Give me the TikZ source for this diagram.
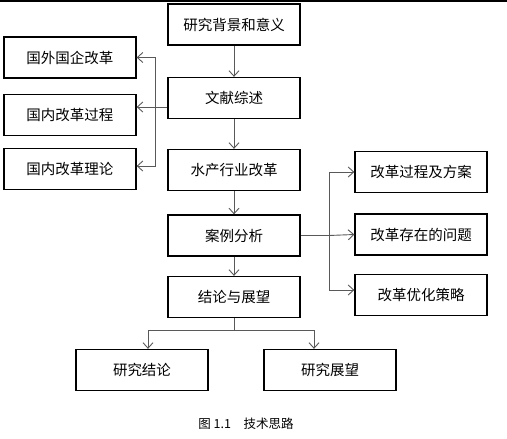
\documentclass[tikz,border=0pt]{standalone}
\usepackage{fontspec}
\setmainfont{Noto Sans CJK SC}
\usetikzlibrary{positioning, arrows.meta}

\begin{document}
\begin{tikzpicture}[x=1pt,y=-1pt,
	box/.style={draw=black,line width=1.3pt,minimum width=132pt,minimum height=41pt,inner sep=0pt,font=\fontsize{14.5}{16}\selectfont},
	link/.style={draw=black!65,line width=0.9pt},
	>={Straight Barb[length=5.5pt,width=10pt]}]
	\useasboundingbox (0,0) rectangle (507,439);
	\draw[line width=2pt] (0,1) -- (507,1);
	% main column
	\node[box] (bg)    at (234,24.5) {研究背景和意义};
	\node[box] (lit)   at (234,98)   {文献综述};
	\node[box] (ind)   at (234,170)  {水产行业改革};
	\node[box] (case)  at (234,235.5){案例分析};
	\node[box] (concl) at (234,297)  {结论与展望};
	% left column
	\node[box] (for)   at (70,57.5)  {国外国企改革};
	\node[box] (proc)  at (70,115)   {国内改革过程};
	\node[box] (theo)  at (70,169)   {国内改革理论};
	% right column
	\node[box] (plan)  at (421,172)  {改革过程及方案};
	\node[box] (prob)  at (421,234.5){改革存在的问题};
	\node[box] (opt)   at (421,295)  {改革优化策略};
	% bottom
	\node[box] (res)   at (142,370)  {研究结论};
	\node[box] (pros)  at (330,370)  {研究展望};
	\node[font=\fontsize{12.5}{14}\selectfont] (cap) at (246,424) {图 1.1\quad 技术思路};
	
	\path[link,->]
	(bg) edge (lit)
	(lit) edge (ind)
	(ind) edge (case)
	(case) edge (concl);
	
	\coordinate (lj) at (155,107);
	\draw[link] ([yshift=-9pt]lit.west) -- (lj);
	\draw[link,->] (lj) |- (for.east);
	\draw[link,->] (lj) -- (lj -| proc.east);
	\draw[link,->] (lj) |- ([yshift=3pt]theo.east);
	
	\coordinate (rj) at (329,235.5);
	\draw[link] (case.east) -- (rj);
	\draw[link,->] (rj) |- (plan.west);
	\draw[link,->] (rj) -- (prob.west);
	\draw[link,->] (rj) |- ([yshift=5pt]opt.west);
	
	\coordinate (bj) at (234,330);
	\draw[link] (concl.south) -- (bj);
	\draw[link,->] (bj) -| ([xshift=6pt]res.north);
	\draw[link,->] (bj) -| ([xshift=-16pt]pros.north);
\end{tikzpicture}
\end{document}
